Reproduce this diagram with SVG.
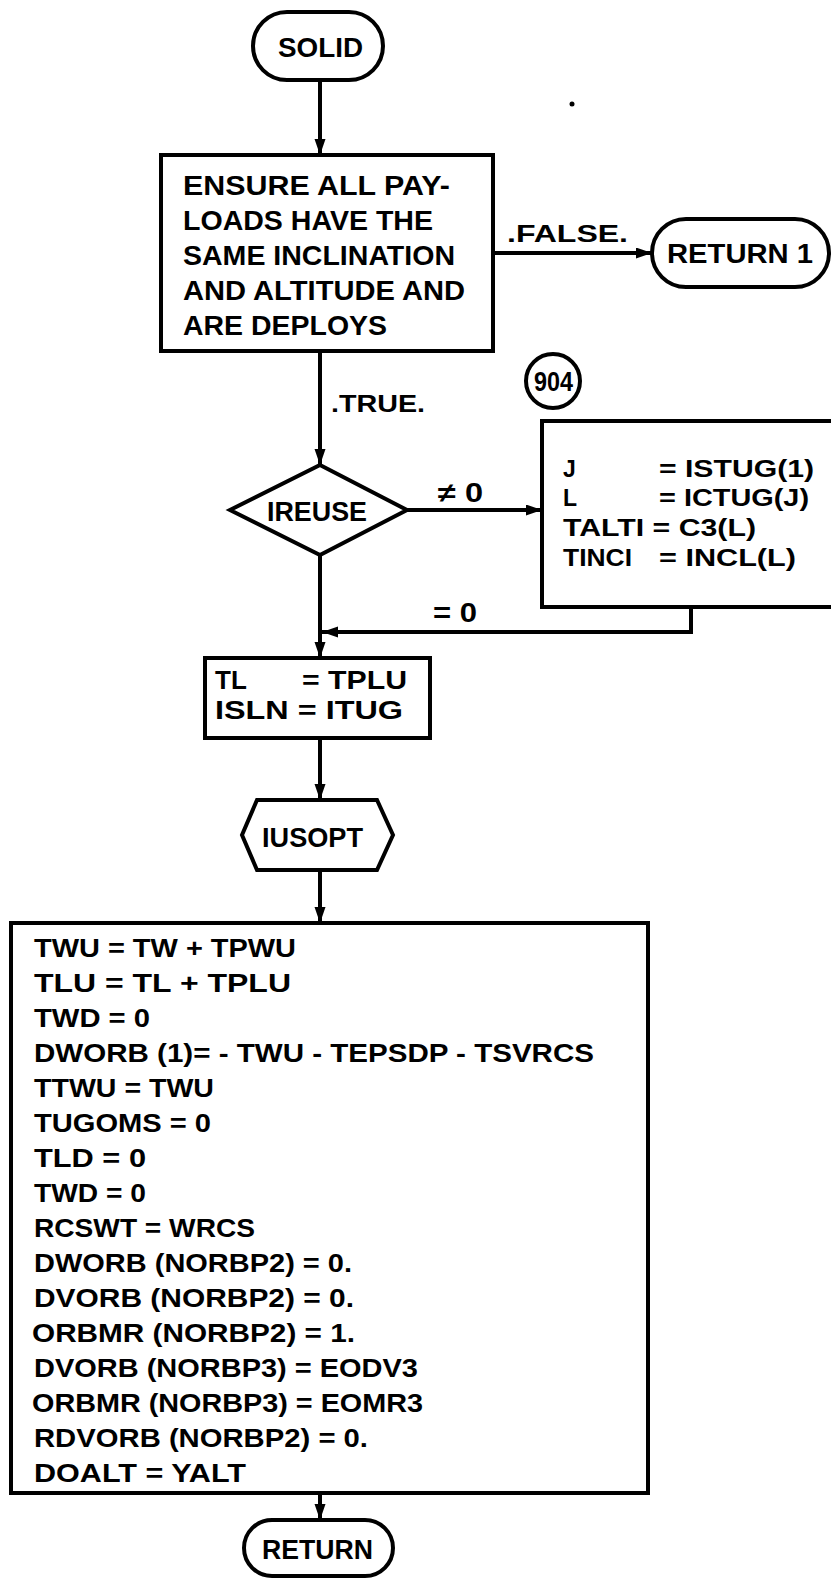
<svg xmlns="http://www.w3.org/2000/svg" width="831" height="1578" viewBox="0 0 831 1578">
<style>
.bx{fill:#fff;stroke:#000;stroke-width:4}
.ln{fill:none;stroke:#000;stroke-width:4}
.t{font-family:"Liberation Sans",Arial,sans-serif;font-weight:bold;font-size:26px;fill:#000}
.m{font-size:27px}
.s{font-size:23px}
</style>
<defs>
<marker id="ah" markerUnits="userSpaceOnUse" markerWidth="18" markerHeight="12" refX="16" refY="5.5" orient="auto">
<path d="M0,0 L16,5.5 L0,11 z" fill="#000"/>
</marker>
</defs>
<rect width="831" height="1578" fill="#fff"/>
<circle cx="572" cy="104" r="2.5" fill="#000"/>
<g id="connectors" class="ln" marker-end="url(#ah)">
<path d="M320,80 V155"/>
<path d="M493,253 H652"/>
<path d="M320,351 V465"/>
<path d="M407,510 H542"/>
<path d="M691,607 V632 H322"/>
<path d="M320,555 V658"/>
<path d="M320,738 V800"/>
<path d="M320,870 V923"/>
<path d="M320,1493 V1520"/>
</g>
<g id="labels" class="t">
<text class="s" x="507" y="242" textLength="121" lengthAdjust="spacingAndGlyphs">.FALSE.</text>
<text class="s" x="331" y="412" textLength="94" lengthAdjust="spacingAndGlyphs">.TRUE.</text>
<text class="m" x="438" y="502" textLength="45" lengthAdjust="spacingAndGlyphs">≠ 0</text>
<text class="m" x="433" y="622" textLength="44" lengthAdjust="spacingAndGlyphs">= 0</text>
</g>
<g id="solid">
<rect class="bx" x="253" y="12" width="130" height="68" rx="34"/>
<text class="t m" x="278" y="57" textLength="85" lengthAdjust="spacingAndGlyphs">SOLID</text>
</g>
<g id="ensure" class="t m">
<rect class="bx" x="161" y="155" width="332" height="196"/>
<text x="183" y="195" textLength="267" lengthAdjust="spacingAndGlyphs">ENSURE ALL PAY-</text>
<text x="183" y="230" textLength="250" lengthAdjust="spacingAndGlyphs">LOADS HAVE THE</text>
<text x="183" y="265" textLength="272" lengthAdjust="spacingAndGlyphs">SAME INCLINATION</text>
<text x="183" y="300" textLength="282" lengthAdjust="spacingAndGlyphs">AND ALTITUDE AND</text>
<text x="183" y="335" textLength="204" lengthAdjust="spacingAndGlyphs">ARE DEPLOYS</text>
</g>
<g id="return1">
<rect class="bx" x="652" y="219" width="177" height="68" rx="34"/>
<text class="t m" x="667" y="263" textLength="146" lengthAdjust="spacingAndGlyphs">RETURN 1</text>
</g>
<g id="c904">
<circle class="bx" cx="553" cy="381" r="27"/>
<text class="t m" x="534" y="391" textLength="39" lengthAdjust="spacingAndGlyphs">904</text>
</g>
<g id="box904" class="t s">
<rect class="bx" x="542" y="421" width="310" height="186"/>
<text x="563" y="477">J</text><text x="659" y="477" textLength="155" lengthAdjust="spacingAndGlyphs">= ISTUG(1)</text>
<text x="563" y="506">L</text><text x="659" y="506" textLength="150" lengthAdjust="spacingAndGlyphs">= ICTUG(J)</text>
<text x="563" y="536" textLength="193" lengthAdjust="spacingAndGlyphs">TALTI = C3(L)</text>
<text x="563" y="566" textLength="69" lengthAdjust="spacingAndGlyphs">TINCI</text><text x="659" y="566" textLength="137" lengthAdjust="spacingAndGlyphs">= INCL(L)</text>
</g>
<g id="ireuse">
<polygon class="bx" points="320,465 407,510 320,555 230,510"/>
<text class="t m" x="267" y="521" textLength="100" lengthAdjust="spacingAndGlyphs">IREUSE</text>
</g>
<g id="tlbox" class="t">
<rect class="bx" x="205" y="658" width="225" height="80"/>
<text x="215" y="689">TL</text><text x="302" y="689" textLength="105" lengthAdjust="spacingAndGlyphs">= TPLU</text>
<text x="215" y="719" textLength="188" lengthAdjust="spacingAndGlyphs">ISLN = ITUG</text>
</g>
<g id="iusopt">
<polygon class="bx" points="257,800 377,800 393,835 377,870 257,870 242,835"/>
<text class="t m" x="262" y="847" textLength="101" lengthAdjust="spacingAndGlyphs">IUSOPT</text>
</g>
<g id="bigbox" class="t">
<rect class="bx" x="11" y="923" width="637" height="570"/>
<text x="34" y="957" textLength="262" lengthAdjust="spacingAndGlyphs">TWU = TW + TPWU</text>
<text x="34" y="992" textLength="257" lengthAdjust="spacingAndGlyphs">TLU = TL + TPLU</text>
<text x="34" y="1027" textLength="116" lengthAdjust="spacingAndGlyphs">TWD = 0</text>
<text x="34" y="1062" textLength="560" lengthAdjust="spacingAndGlyphs">DWORB (1)= - TWU - TEPSDP - TSVRCS</text>
<text x="34" y="1097" textLength="180" lengthAdjust="spacingAndGlyphs">TTWU = TWU</text>
<text x="34" y="1132" textLength="177" lengthAdjust="spacingAndGlyphs">TUGOMS = 0</text>
<text x="34" y="1167" textLength="112" lengthAdjust="spacingAndGlyphs">TLD = 0</text>
<text x="34" y="1202" textLength="112" lengthAdjust="spacingAndGlyphs">TWD = 0</text>
<text x="34" y="1237" textLength="221" lengthAdjust="spacingAndGlyphs">RCSWT = WRCS</text>
<text x="34" y="1272" textLength="318" lengthAdjust="spacingAndGlyphs">DWORB (NORBP2) = 0.</text>
<text x="34" y="1307" textLength="320" lengthAdjust="spacingAndGlyphs">DVORB (NORBP2) = 0.</text>
<text x="32" y="1342" textLength="323" lengthAdjust="spacingAndGlyphs">ORBMR (NORBP2) = 1.</text>
<text x="34" y="1377" textLength="384" lengthAdjust="spacingAndGlyphs">DVORB (NORBP3) = EODV3</text>
<text x="32" y="1412" textLength="391" lengthAdjust="spacingAndGlyphs">ORBMR (NORBP3) = EOMR3</text>
<text x="34" y="1447" textLength="334" lengthAdjust="spacingAndGlyphs">RDVORB (NORBP2) = 0.</text>
<text x="34" y="1482" textLength="212" lengthAdjust="spacingAndGlyphs">DOALT = YALT</text>
</g>
<g id="return">
<rect class="bx" x="244" y="1520" width="149" height="56" rx="28"/>
<text class="t m" x="262" y="1559" textLength="111" lengthAdjust="spacingAndGlyphs">RETURN</text>
</g>
</svg>
